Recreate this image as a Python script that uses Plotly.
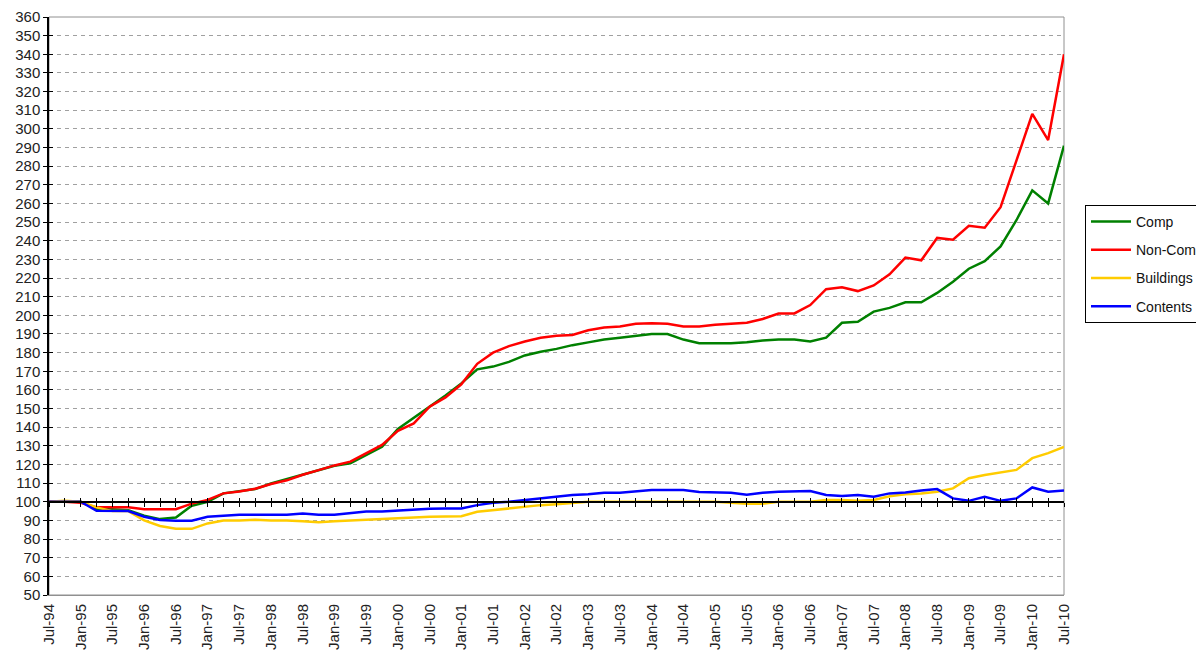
import plotly.graph_objects as go

# Quarterly categories Jul-94 .. Jul-10
quarter_months = ["Jul", "Oct", "Jan", "Apr"]
quarters = [f"{quarter_months[i % 4]}-{(94 + (i + 2) // 4) % 100:02d}" for i in range(65)]
tick_labels = quarters[::2]

comp = [100, 100, 100, 96, 96, 95.5, 92.5, 90.7, 91.6, 97.9, 100, 104.5, 105.5, 106.8, 109.8, 112.2,
        114.8, 117, 119.3, 120.6, 125.2, 129.5, 139, 145, 151, 157, 163.5, 171, 172.5, 175, 178.5,
        180.5, 182, 184, 185.5, 187, 188, 189, 190, 190, 187, 185, 185, 185, 185.5, 186.5, 187, 187,
        186, 188, 196, 196.5, 202, 204, 207, 207, 212, 218, 225, 229, 237, 251, 267, 260, 291]

non_comp = [100, 100, 99.5, 97, 97, 97, 96, 96, 96, 99, 101, 104.5, 105.5, 107, 109.5, 111.5,
            114.5, 117, 119.5, 121.5, 126, 130.5, 138, 142, 151, 156, 163, 174, 180, 183.5, 186,
            188, 189, 189.5, 192, 193.5, 194, 195.5, 195.7, 195.5, 194, 194, 195, 195.5, 196, 198,
            201, 201, 205.5, 214, 215, 213, 216, 222, 231, 229.5, 241.5, 240.5, 248, 247, 258, 283,
            308, 294, 340]

buildings = [100, 100.5, 100, 97, 95, 95, 90, 87, 85.5, 85.5, 88.4, 90, 90, 90.3, 90, 90, 89.5,
             89, 89.5, 90, 90.3, 90.7, 91.2, 91.6, 92, 92.3, 92.3, 94.6, 95.5, 96.4, 97.3, 98.2,
             98.7, 99.5, 100, 100, 100, 100, 100, 100, 100, 100, 100, 99.5, 99, 99, 100, 100, 100,
             101, 101, 100.5, 101, 103, 104, 104.5, 105.4, 107.2, 112.6, 114.4, 115.7, 117.1, 123.4,
             126.1, 129.4]

contents = [100, 100, 100, 95.2, 95, 95, 92, 90.2, 89.8, 89.8, 92, 92.5, 93, 93, 93, 93, 93.7, 93,
            93, 93.7, 94.8, 94.8, 95.2, 96, 96.3, 96.4, 96.4, 98.2, 99.5, 100, 100.9, 101.8, 102.7,
            103.6, 104, 104.9, 104.9, 105.4, 106.3, 106.3, 106.3, 105.2, 105.2, 104.9, 103.8, 104.9,
            105.4, 105.6, 105.8, 103.6, 103.1, 103.6, 102.7, 104.5, 105, 106, 106.8, 101.8, 100.5,
            102.7, 100.5, 101.8, 107.7, 105.4, 106]

series_names = ["Comp", "Non-Comp", "Buildings", "Contents"]
series_values = [comp, non_comp, buildings, contents]
series_colors = ["#008000", "#FF0000", "#FFCC00", "#0000FF"]

y_min, y_max, y_cross = 50, 360, 100

FONT = "Liberation Sans, Arial, sans-serif"

fig = go.Figure()
for name, vals, color in zip(series_names, series_values, series_colors):
    fig.add_trace(go.Scatter(x=quarters, y=vals, mode="lines", name=name, legendgroup=name,
                             line=dict(color=color, width=2.5), hoverinfo="x+y+name"))

# helper traces so the crossing axes are rendered
for xa in ["x2", "x3"]:
    fig.add_trace(go.Scatter(x=quarters, y=[None] * len(quarters), xaxis=xa, yaxis="y",
                             showlegend=False, hoverinfo="skip", mode="lines"))
fig.add_trace(go.Scatter(x=quarters, y=[None] * len(quarters), xaxis="x", yaxis="y2",
                         showlegend=False, hoverinfo="skip", mode="lines"))

cross_pos = (y_cross - y_min) / (y_max - y_min)

common_x = dict(type="category", categoryorder="array", categoryarray=quarters,
                range=[0, len(quarters) - 1], automargin=False)

# page body adds an 8px offset; the figure is sized so the plot area lands where the reference has it
fig.update_layout(
    width=1204, height=645,
    margin=dict(l=41, r=148, t=9, b=58, autoexpand=False),
    paper_bgcolor="white", plot_bgcolor="white",
    font=dict(family=FONT, size=15, color="#222222"),
    xaxis=dict(**common_x, tickmode="array", tickvals=tick_labels, tickangle=-90,
               showline=True, linecolor="#909090", linewidth=1, showgrid=False,
               ticks="", ticklabelstandoff=2, tickfont=dict(size=15, color="#222222")),
    xaxis2=dict(**common_x, overlaying="x", matches="x", anchor="free", position=cross_pos,
                side="bottom", showline=True, linecolor="black", linewidth=1.5,
                tickmode="linear", tick0=0, dtick=1, ticks="outside", ticklen=4,
                tickcolor="black", tickwidth=1, showticklabels=False, showgrid=False),
    xaxis3=dict(**common_x, overlaying="x", matches="x", anchor="free", position=cross_pos,
                side="bottom", showline=False,
                tickmode="linear", tick0=0, dtick=1, ticks="inside", ticklen=4,
                tickcolor="black", tickwidth=1, showticklabels=False, showgrid=False),
    yaxis=dict(range=[y_min, y_max], tick0=y_min, dtick=10, showline=True, linecolor="black",
               linewidth=1.5, ticks="outside", ticklen=4, tickcolor="black", automargin=False,
               showgrid=True, gridcolor="#a0a0a0", griddash="4px,4px", gridwidth=1.3,
               zeroline=False, tickfont=dict(size=15, color="#222222")),
    yaxis2=dict(range=[y_min, y_max], overlaying="y", matches="y", side="left", anchor="x",
                tick0=y_min, dtick=10, ticks="inside", ticklen=4, tickcolor="black",
                automargin=False,
                showticklabels=False, showgrid=False, showline=False, zeroline=False),
    legend=dict(x=(1077 - 41) / 1015, y=(587 - 197) / 578, xanchor="left", yanchor="top",
                bordercolor="black", borderwidth=1, bgcolor="white", itemwidth=40,
                font=dict(size=14, color="#111111"), tracegroupgap=7),
    shapes=[dict(type="rect", xref="paper", yref="paper", x0=0, x1=1, y0=0, y1=1,
                 line=dict(color="#909090", width=1), layer="below")],
    showlegend=True,
)

fig.write_html("out.html")
